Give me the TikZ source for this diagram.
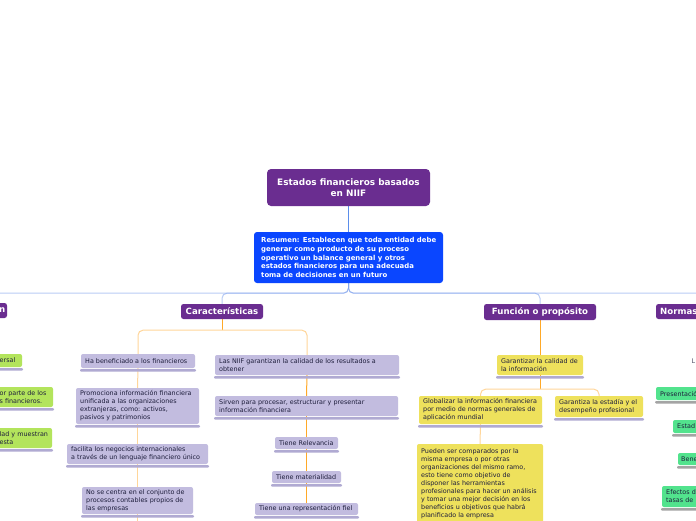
\documentclass[tikz,border=0pt]{standalone}
\usepackage{fontspec}
\setmainfont{DejaVu Sans}
\pgfdeclarelayer{bg}
\pgfsetlayers{bg,main}
\definecolor{purp}{HTML}{6A2D90}
\definecolor{resblue}{HTML}{0A46FF}
\definecolor{lnblue}{HTML}{5B8EEB}
\definecolor{lnblueL}{HTML}{7FA2EE}
\definecolor{orD}{HTML}{FFA928}
\definecolor{orL}{HTML}{FFD69A}
\definecolor{lav}{HTML}{C2BCDF}
\definecolor{lavsh}{HTML}{B0AAD2}
\definecolor{yel}{HTML}{EEE15C}
\definecolor{lime}{HTML}{B3E45C}
\definecolor{mint}{HTML}{52E38D}
\definecolor{greysh}{HTML}{A4A4A4}
\definecolor{txt}{HTML}{1E1E3C}
\tikzset{
  rootbox/.style={fill=purp, rounded corners=4pt, text=white, align=center,
    font=\bfseries\fontsize{8.9}{11}\selectfont, inner sep=0pt},
  resbox/.style={fill=resblue, rounded corners=3pt, inner sep=0pt},
  restext/.style={text=white, align=left, inner sep=0pt,
    font=\bfseries\fontsize{6.9}{8.6}\selectfont},
  headbox/.style={fill=purp, rounded corners=2.5pt, text=white, align=center,
    font=\bfseries\fontsize{8.6}{10}\selectfont, inner ysep=0pt},
  headtext/.style={text=white, inner sep=0pt, font=\bfseries\fontsize{8.6}{10}\selectfont},
  smalltxt/.style={text=txt, align=left, font=\fontsize{6.4}{8}\selectfont, inner sep=0pt},
  small/.style={rounded corners=2pt, inner sep=0pt},
  lavbox/.style={small, fill=lav},
  yelbox/.style={small, fill=yel},
  limebox/.style={small, fill=lime},
  mintbox/.style={small, fill=mint},
  blline/.style={draw=lnblue, line width=1pt},
  bllight/.style={draw=lnblueL, line width=1pt, opacity=0.55, rounded corners=5pt},
  ordark/.style={draw=orD, line width=1pt},
  orlight/.style={draw=orL, line width=1pt, rounded corners=5pt},
}
% box only: #1 name, #2 style, #3 x1, #4 y1, #5 x2, #6 y2, #7 shadow colour
\newcommand\bxo[7]{%
  \pgfmathsetmacro\mytw{#5-#3}%
  \pgfmathsetmacro\myth{#6-#4}%
  \fill[#7, rounded corners=1pt] (#3-1,#6+1) rectangle (#5+1,#6+3.5);
  \node[#2, minimum width=\mytw pt, minimum height=\myth pt, anchor=center]
    (#1) at ({(#3+#5)/2},{(#4+#6)/2}) {};%
}
% box with left aligned text: #8 text
\newcommand\bx[8]{%
  \bxo{#1}{#2}{#3}{#4}{#5}{#6}{#7}%
  \node[smalltxt, anchor=west] (#1-t) at ({#3+4},{(#4+#6)/2}) {#8};%
}
\newcommand\hb[7]{%
  \pgfmathsetmacro\mytw{#5-#3}%
  \pgfmathsetmacro\myth{#6-#4}%
  \node[#2, minimum width=\mytw pt, minimum height=\myth pt, inner xsep=0pt, anchor=center]
    (#1) at ({(#3+#5)/2},{(#4+#6)/2}) {#7};%
}
\begin{document}
\begin{tikzpicture}[x=1pt, y=-1pt]
\useasboundingbox (0,0) rectangle (696,520);
\clip (0,0) rectangle (696,520);

% root and summary
\hb{root}{rootbox}{267}{169}{430}{206}{Estados financieros basados\\en NIIF}
\hb{res}{resbox}{254}{232}{443}{283}{}
\node[restext, anchor=west] (restxt) at (261,257.5) {Resumen: Establecen que toda entidad debe\\generar como producto de su proceso\\operativo un balance general y otros\\estados financieros para una adecuada\\toma de decisiones en un futuro};

% branch headers
\hb{lefth}{headbox}{-40}{303}{7}{318}{}
\node[headtext, anchor=east] (lefttxt) at (5.5,310.5) {n};
\hb{car}{headbox}{181}{304}{263}{319}{Características}
\hb{fun}{headbox}{484}{304}{596}{320}{Función o propósito}
\hb{norm}{headbox}{656}{304}{760}{319}{}
\node[headtext, anchor=west] (normtxt) at (660,311.5) {Normas};

% left partial column (lime)
\bxo{a1}{limebox}{-60}{354}{22}{367}{lavsh}
\node[smalltxt, anchor=west] (a1t) at (-0.5,360.5) {ersal};
\bxo{a2}{limebox}{-60}{387}{53}{407}{lavsh}
\node[smalltxt, anchor=west] (a2t) at (-0.5,397) {or parte de los\\s financieros.};
\bxo{a3}{limebox}{-60}{428}{52}{448}{lavsh}
\node[smalltxt, anchor=west] (a3t) at (-0.5,438) {lad y muestran\\esta};

% Caracteristicas, left
\bx{L1}{lavbox}{81}{354}{195}{368}{lavsh}{Ha beneficiado a los financieros}
\bx{L2}{lavbox}{76}{388}{199}{424}{lavsh}{Promociona información financiera\\unificada a las organizaciones\\extranjeras, como: activos,\\pasivos y patrimonios}
\bx{L3}{lavbox}{67}{444}{208}{464}{lavsh}{facilita los negocios internacionales\\a través de un lenguaje financiero único}
\bx{L4}{lavbox}{82}{487}{193}{514}{lavsh}{No se centra en el conjunto de\\procesos contables propios de\\las empresas}

% Caracteristicas, right
\bx{R1}{lavbox}{215}{355}{399}{375}{lavsh}{Las NIIF garantizan la calidad de los resultados a\\obtener}
\bx{R2}{lavbox}{215}{396}{398}{416}{lavsh}{Sirven para procesar, estructurar y presentar\\información financiera}
\bx{R3}{lavbox}{275}{437}{338}{449}{lavsh}{Tiene Relevancia}
\bx{R4}{lavbox}{272}{471}{341}{483}{lavsh}{Tiene materialidad}
\bx{R5}{lavbox}{255}{503}{358}{515}{lavsh}{Tiene una representación fiel}

% Funcion
\bx{G1}{yelbox}{497}{355}{583}{375}{lavsh}{Garantizar la calidad de\\la información}
\bx{G2}{yelbox}{419}{396}{542}{424}{lavsh}{Globalizar la información financiera\\por medio de normas generales de\\aplicación mundial}
\bx{G3}{yelbox}{555}{396}{643}{417}{lavsh}{Garantiza la estadía y el\\desempeño profesional}
\bxo{G4}{yelbox}{417}{444}{543}{526}{lavsh}
\node[smalltxt, anchor=north west] (G4-t) at (421,448) {Pueden ser comparados por la\\misma empresa o por otras\\organizaciones del mismo ramo,\\esto tiene como objetivo de\\disponer las herramientas\\profesionales para hacer un análisis\\y tomar una mejor decisión en los\\beneficios u objetivos que habrá\\planificado la empresa};

% Normas (partial)
\node[smalltxt, text=txt!80, anchor=west] (nl) at (691.5,361) {L};
\bxo{N1}{mintbox}{656}{387}{760}{400}{greysh}
\node[smalltxt, anchor=west] (n1t) at (660,393.5) {Presentació};
\bxo{N2}{mintbox}{673}{420}{760}{433}{greysh}
\node[smalltxt, anchor=west] (n2t) at (677,426.5) {Estad};
\bxo{N3}{mintbox}{678}{453}{760}{465}{greysh}
\node[smalltxt, anchor=west] (n3t) at (681,459) {Bene};
\bxo{N4}{mintbox}{662}{486}{760}{507}{greysh}
\node[smalltxt, anchor=west] (n4t) at (666,496.5) {Efectos d\\tasas de};

% connectors
\begin{pgfonlayer}{bg}
\fill[white] (0,0) rectangle (696,520);
\draw[blline] (root.south) -- (res.north);
\draw[bllight] (res.south) -- ++(0,10) -| (lefth.north);
\draw[bllight] (res.south) -- ++(0,10) -| (car.north);
\draw[bllight] (res.south) -- ++(0,10) -| (fun.north);
\draw[bllight] (res.south) -- ++(0,10) -| (norm.north);

\path (car.south) ++(0,11) coordinate (cj);
\draw[ordark] (car.south) -- (cj);
\draw[orlight] (cj) -| (L1.north);
\draw[orlight] (cj) -| (R1.north);
\draw[orlight] (L1.south) -- (L2.north);
\draw[orlight] (L2.south) -- (L3.north);
\draw[orlight] (L3.south) -- (L4.north);
\path (L4.south) ++(0,12) coordinate (lend);
\draw[orlight] (L4.south) -- (lend);
\draw[ordark] (R1.south) -- (R2.north);
\draw[ordark] (R2.south) -- (R3.north);
\draw[ordark] (R3.south) -- (R4.north);
\draw[ordark] (R4.south) -- (R5.north);

\draw[ordark] (fun.south) -- (G1.north);
\path (G1.south) ++(0,14) coordinate (gj);
\draw[ordark] (G1.south) -- (gj);
\draw[orlight] (gj) -| (G2.north);
\draw[orlight] (gj) -| (G3.north);
\draw[orlight] (G2.south) -- (G4.north);
\end{pgfonlayer}
\end{tikzpicture}
\end{document}
